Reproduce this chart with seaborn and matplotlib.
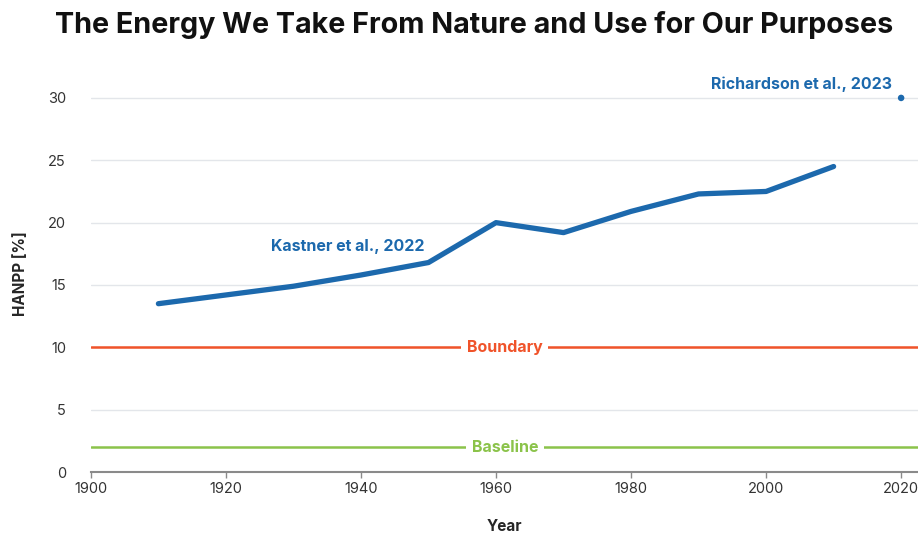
import matplotlib
matplotlib.use('Agg')
import matplotlib.pyplot as plt
import seaborn as sns
import pandas as pd

# Kastner et al., 2022
years = [1910, 1920, 1930, 1940, 1950, 1960, 1970, 1980, 1990, 2000, 2010]
hanpp = [13.5, 14.2, 14.9, 15.8, 16.8, 20.0, 19.2, 20.9, 22.3, 22.5, 24.5]
# Richardson et al., 2023
rich_year = [2020]
rich_value = [30.0]

boundary = 10
baseline = 2
x_ticks = [1900, 1920, 1940, 1960, 1980, 2000, 2020]
y_ticks = [0, 5, 10, 15, 20, 25, 30]

sns.set_theme(style='white')
plt.rcParams['font.family'] = ['Inter', 'DejaVu Sans']

blue = '#1c69ad'
orange = '#f0532a'
green = '#8bc34a'

fig = plt.figure(figsize=(9.18, 5.34), dpi=100)
ax = fig.add_axes([0.099, 0.116, 0.901, 0.745])

df = pd.DataFrame({'Year': years, 'HANPP': hanpp})
sns.lineplot(data=df, x='Year', y='HANPP', ax=ax, color=blue, linewidth=3.8,
             solid_capstyle='round', zorder=3)
sns.scatterplot(x=rich_year, y=rich_value, ax=ax, color=blue, s=22,
                edgecolor='none', zorder=3)

ax.set_xlim(1900, 2022.5)
ax.set_ylim(0, 31.9)

# reference lines with labels
ax.axhline(boundary, color=orange, linewidth=1.8, zorder=2)
ax.axhline(baseline, color=green, linewidth=1.8, zorder=2)
ax.text(1961.3, boundary, 'Boundary', color=orange, fontsize=11.5, fontweight='bold',
        ha='center', va='center', zorder=4,
        bbox=dict(facecolor='white', edgecolor='none', pad=4))
ax.text(1961.3, baseline, 'Baseline', color=green, fontsize=11.5, fontweight='bold',
        ha='center', va='center', zorder=4,
        bbox=dict(facecolor='white', edgecolor='none', pad=4))

ax.text(1938, 18.1, 'Kastner et al., 2022', color=blue, fontsize=11.5,
        fontweight='bold', ha='center', va='center')
ax.text(2018.7, 31.1, 'Richardson et al., 2023', color=blue, fontsize=11.5,
        fontweight='bold', ha='right', va='center')

ax.set_xticks(x_ticks)
ax.set_yticks(y_ticks)
ax.yaxis.grid(True, color='#e3e6ea', linewidth=1.0)
ax.set_axisbelow(True)
for s in ['top', 'right', 'left']:
    ax.spines[s].set_visible(False)
ax.spines['bottom'].set_color('#8a8a8a')
ax.spines['bottom'].set_linewidth(1.5)
ax.tick_params(axis='x', bottom=True, length=4, width=1, color='#8a8a8a',
               labelsize=10.5, labelcolor='#333333', pad=3)
ax.tick_params(axis='y', left=False, labelsize=10.5, labelcolor='#333333', pad=12)

ax.set_xlabel('Year', fontsize=11, fontweight='bold', labelpad=17)
ax.set_ylabel('HANPP [%]', fontsize=11, fontweight='bold', labelpad=14)

fig.suptitle('The Energy We Take From Nature and Use for Our Purposes',
             fontsize=20.7, fontweight='bold', x=0.516, y=0.98, color='#111111')

fig.savefig('out.png', dpi=100)
